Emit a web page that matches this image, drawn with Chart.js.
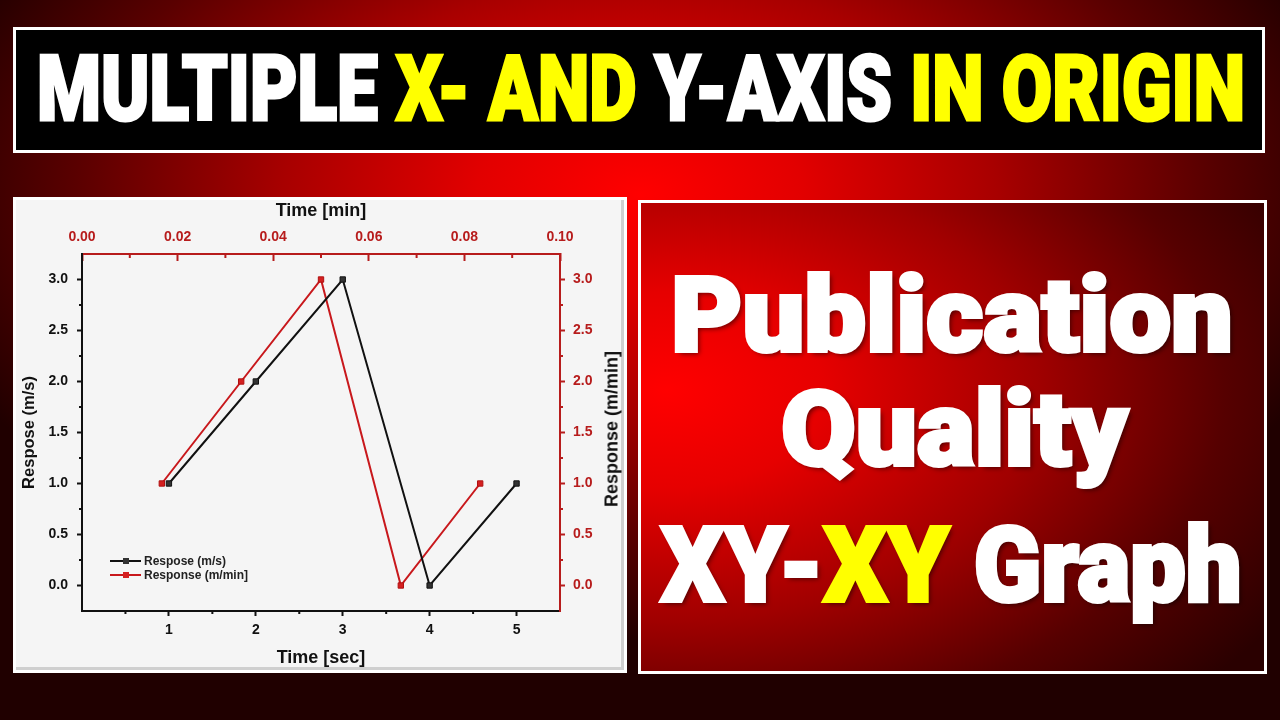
<!DOCTYPE html>
<html>
<head>
<meta charset="utf-8">
<script src="https://cdn.jsdelivr.net/npm/chart.js@4.4.1/dist/chart.umd.min.js"></script>
<style>
html,body{margin:0;padding:0;}
body{width:1280px;height:720px;overflow:hidden;position:relative;
  background:radial-gradient(ellipse 58% 62% at 50% 27%, #ff0000 0%, #e20000 22%, #a80000 48%, #5a0000 76%, #200000 100%);}
#titlebox{position:absolute;left:13px;top:27px;width:1246px;height:120px;background:#000;border:3px solid #fff;}
.big{position:absolute;white-space:nowrap;font-family:Roboto,'Liberation Sans',sans-serif;font-weight:900;line-height:1;transform-origin:0 0;-webkit-text-stroke-width:3px;}
.w{color:#fff;}
.yl{color:#ffff00;}
#leftpanel{position:absolute;left:13px;top:197px;width:608px;height:470px;background:#f5f5f5;border:3px solid #fff;box-shadow:inset -3px -3px 0 #cfcfcf;}
#chartwrap{position:absolute;left:13px;top:197px;width:614px;height:476px;}
#rightpanel{position:absolute;left:638px;top:200px;width:623px;height:468px;border:3px solid #fff;
  background:radial-gradient(ellipse 115% 95% at 4% 40%, #ff0000 0%, #e60000 22%, #a00000 52%, #560000 78%, #2a0000 100%);}
.rt{font-size:104px;-webkit-text-stroke-width:4px;text-shadow:3px 3px 5px rgba(0,0,0,0.55);}
#ytitle2{position:absolute;left:612px;top:429px;transform:translate(-50%,-50%) rotate(-90deg);white-space:nowrap;
  font-family:'Liberation Sans',Arial,sans-serif;font-weight:bold;font-size:18px;color:#111;}
#legend{position:absolute;left:110px;top:554px;font-family:'Liberation Sans',Arial,sans-serif;font-weight:bold;font-size:12px;color:#222;line-height:14px;}
.lrow{position:relative;height:14px;padding-left:34px;white-space:nowrap;}
.lline{position:absolute;left:0;top:6px;width:31px;height:2px;}
.lmark{position:absolute;left:13px;top:4px;width:6px;height:6px;}
</style>
</head>
<body>
<div id="titlebox"></div>
<div id="title" class="big" style="font-size:90px;top:45px;"><span class="w">MULTIPLE </span><span class="yl">X- AND </span><span class="w">Y-AXIS </span><span class="yl">IN ORIGIN</span></div>

<div id="leftpanel"></div>
<div id="chartwrap"><canvas id="chart" width="614" height="476"></canvas></div>
<div id="ytitle2">Response (m/min]</div>
<div id="legend">
  <div class="lrow"><div class="lline" style="background:#111"></div><div class="lmark" style="background:#333;border:0"></div>Respose (m/s)</div>
  <div class="lrow"><div class="lline" style="background:#c8181c"></div><div class="lmark" style="background:#d42020"></div>Response (m/min]</div>
</div>

<div id="rightpanel"></div>
<div id="l1" class="big rt" style="top:264px;"><span class="w">Publication</span></div>
<div id="l2" class="big rt" style="top:378px;"><span class="w">Quality</span></div>
<div id="l3" class="big rt" style="top:514px;"><span class="w">XY-</span><span class="yl">XY</span><span class="w"> Graph</span></div>

<script>
// ---- data ----
const timeSec = [1, 2, 3, 4, 5];
const responseMs = [1, 2, 3, 0, 1];
const timeMin = [0.0167, 0.0333, 0.05, 0.0667, 0.0833];
const responseMmin = [1, 2, 3, 0, 1];

// ---- tick labels ----
const secTicks = [1, 2, 3, 4, 5];
const secMinor = [0.5, 1.5, 2.5, 3.5, 4.5];
const minTicks = [0, 0.02, 0.04, 0.06, 0.08, 0.10];
const minMinor = [0.01, 0.03, 0.05, 0.07, 0.09];
const respTicks = [0, 0.5, 1, 1.5, 2, 2.5, 3];
const respMinor = [0.25, 0.75, 1.25, 1.75, 2.25, 2.75];

const BLACK = '#111111';
const RED = '#b71c1c';
const FONT = "'Liberation Sans', Arial, sans-serif";
const tickFont = {family: FONT, size: 14, weight: 'bold'};

const minorTicks = {
  id: 'minorTicks',
  afterDraw(chart) {
    const ctx = chart.ctx, a = chart.chartArea, s = chart.scales;
    const len = 3;
    ctx.save();
    ctx.lineWidth = 2;
    ctx.strokeStyle = BLACK;
    ctx.beginPath();
    secMinor.forEach(v => { const p = s.x.getPixelForValue(v); ctx.moveTo(p, a.bottom); ctx.lineTo(p, a.bottom + len); });
    respMinor.forEach(v => { const p = s.y.getPixelForValue(v); ctx.moveTo(a.left, p); ctx.lineTo(a.left - len, p); });
    ctx.stroke();
    ctx.strokeStyle = RED;
    ctx.beginPath();
    minMinor.forEach(v => { const p = s.x2.getPixelForValue(v); ctx.moveTo(p, a.top); ctx.lineTo(p, a.top + len + 1); });
    respMinor.forEach(v => { const p = s.y2.getPixelForValue(v); ctx.moveTo(a.right, p); ctx.lineTo(a.right + len, p); });
    ctx.stroke();
    ctx.restore();
  }
};

function setTicks(arr) { return s => { s.ticks = arr.map(v => ({value: v})); }; }

new Chart(document.getElementById('chart'), {
  type: 'line',
  data: {
    datasets: [
      {
        label: 'Respose (m/s)',
        data: timeSec.map((t, i) => ({x: t, y: responseMs[i]})),
        xAxisID: 'x', yAxisID: 'y',
        borderColor: BLACK, borderWidth: 2,
        pointStyle: 'rect', pointRadius: 3.8,
        pointBackgroundColor: '#333', pointBorderColor: BLACK, pointBorderWidth: 1,
        tension: 0
      },
      {
        label: 'Response (m/min]',
        data: timeMin.map((t, i) => ({x: t, y: responseMmin[i]})),
        xAxisID: 'x2', yAxisID: 'y2',
        borderColor: '#c8181c', borderWidth: 2,
        pointStyle: 'rect', pointRadius: 3.8,
        pointBackgroundColor: '#d42020', pointBorderColor: '#b01010', pointBorderWidth: 1,
        tension: 0
      }
    ]
  },
  options: {
    responsive: false,
    animation: false,
    layout: {padding: 0},
    plugins: {legend: {display: false}, tooltip: {enabled: false}},
    scales: {
      x: {
        type: 'linear', position: 'bottom', min: 0, max: 5.5,
        afterBuildTicks: setTicks(secTicks),
        afterFit: s => { s.height = 62; },
        ticks: {callback: v => String(v), font: tickFont, color: BLACK, padding: 6, autoSkip: false, maxRotation: 0},
        grid: {drawOnChartArea: false, tickLength: 5, tickWidth: 2, tickColor: BLACK},
        border: {color: BLACK, width: 2},
        title: {display: true, text: 'Time [sec]', font: {family: FONT, size: 18, weight: 'bold'}, color: BLACK, padding: {top: 0, bottom: 4}}
      },
      x2: {
        type: 'linear', position: 'top', min: 0, max: 0.1,
        afterBuildTicks: setTicks(minTicks),
        afterFit: s => { s.height = 57; },
        ticks: {callback: v => v.toFixed(2), font: tickFont, color: RED, padding: 15.6, autoSkip: false, maxRotation: 0},
        grid: {drawOnChartArea: false, tickLength: -7, tickWidth: 2, tickColor: RED},
        border: {color: RED, width: 2},
        title: {display: true, text: 'Time [min]', font: {family: FONT, size: 18, weight: 'bold'}, color: BLACK, padding: {top: 3, bottom: 0}}
      },
      y: {
        type: 'linear', position: 'left', min: -0.25, max: 3.25,
        afterBuildTicks: setTicks(respTicks),
        afterFit: s => { s.width = 69; },
        ticks: {callback: v => v.toFixed(1), font: tickFont, color: BLACK, padding: 9, autoSkip: false},
        grid: {drawOnChartArea: false, tickLength: 5, tickWidth: 2, tickColor: BLACK},
        border: {color: BLACK, width: 2},
        title: {display: true, text: 'Respose (m/s)', font: {family: FONT, size: 16.5, weight: 'bold'}, color: BLACK, padding: {top: 7, bottom: 0}}
      },
      y2: {
        type: 'linear', position: 'right', min: -0.25, max: 3.25,
        afterBuildTicks: setTicks(respTicks),
        afterFit: s => { s.width = 67; },
        ticks: {callback: v => v.toFixed(1), font: tickFont, color: RED, padding: 8, autoSkip: false},
        grid: {drawOnChartArea: false, tickLength: 5, tickWidth: 2, tickColor: RED},
        border: {color: RED, width: 2},
        title: {display: false}
      }
    }
  },
  plugins: [minorTicks]
});

function fit(id, left, right) {
  const el = document.getElementById(id);
  const w = el.offsetWidth;
  el.style.left = left + 'px';
  el.style.transform = 'scaleX(' + ((right - left) / w) + ')';
}
fit('title', 37, 1245);
fit('l1', 671, 1233);
fit('l2', 781, 1128);
fit('l3', 661, 1242);
</script>
</body>
</html>
